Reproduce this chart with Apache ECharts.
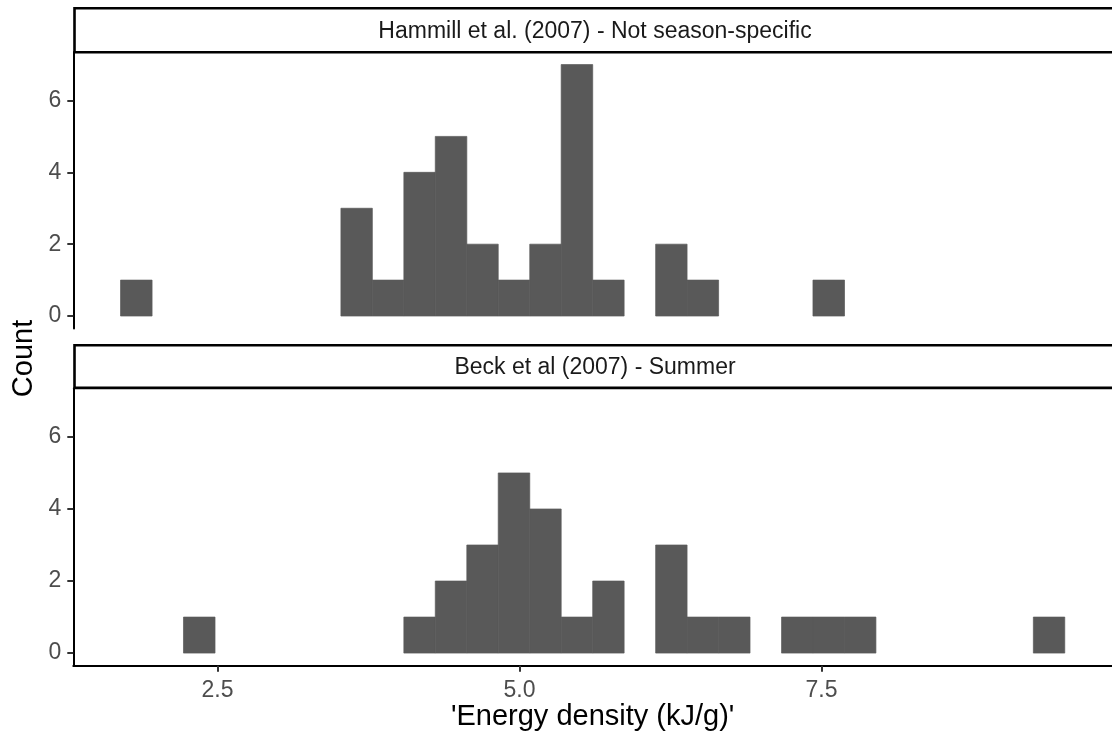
<!DOCTYPE html>
<html>
<head>
<meta charset="utf-8">
<script src="https://cdn.jsdelivr.net/npm/echarts@6/dist/echarts.min.js"></script>
<style>
html,body{margin:0;padding:0;background:#fff;}
#chart{width:1112px;height:741px;}
</style>
</head>
<body>
<div id="chart"></div>
<script>
// Histogram bin edges (energy density, kJ/g), 30 bins
const binEdges = [1.698, 1.959, 2.219, 2.480, 2.740, 3.001, 3.261, 3.522, 3.782, 4.043,
                  4.303, 4.564, 4.824, 5.085, 5.345, 5.606, 5.866, 6.127, 6.387, 6.648,
                  6.908, 7.169, 7.429, 7.690, 7.950, 8.211, 8.471, 8.732, 8.992, 9.253, 9.513];
// Counts per bin
const hammillCounts = [1, 0, 0, 0, 0, 0, 0, 3, 1, 4, 5, 2, 1, 2, 7, 1, 0, 2, 1, 0, 0, 0, 1, 0, 0, 0, 0, 0, 0, 0];
const beckCounts    = [0, 0, 1, 0, 0, 0, 0, 0, 0, 1, 2, 3, 5, 4, 1, 2, 0, 3, 1, 1, 0, 1, 1, 1, 0, 0, 0, 0, 0, 1];
const panelTitles = ["Hammill et al. (2007) - Not season-specific", "Beck et al (2007) - Summer"];
const xTicks = [2.5, 5.0, 7.5];
const yTicks = [0, 2, 4, 6];
const xTitle = "'Energy density (kJ/g)'";
const yTitle = "Count";

function toBins(counts) {
  const out = [];
  counts.forEach((c, k) => { if (c > 0) out.push([binEdges[k], binEdges[k + 1], c]); });
  return out;
}

const chart = echarts.init(document.getElementById('chart'), null, {renderer: 'canvas'});
const FONT = 'Liberation Sans, Arial, sans-serif';

function renderBar(params, api) {
  const p0 = api.coord([api.value(0), api.value(2)]);
  const p1 = api.coord([api.value(1), 0]);
  return {
    type: 'rect',
    shape: {x: p0[0], y: p0[1], width: p1[0] - p0[0], height: p1[1] - p0[1]},
    style: {fill: '#595959', stroke: '#595959', lineWidth: 0.7}
  };
}

const xMin = 1.307, xMax = 9.904;
const yMin = -0.35, yMax = 7.35;

function yAxisCfg(gi) {
  return {
    type: 'value', gridIndex: gi, min: yMin, max: yMax,
    splitLine: {show: false},
    axisLine: {show: true, lineStyle: {color: '#000', width: 2}},
    axisTick: {show: true, customValues: yTicks, length: 6, lineStyle: {color: '#333', width: 2}},
    axisLabel: {show: true, customValues: yTicks, color: '#4D4D4D', fontSize: 23, fontFamily: FONT, margin: 12}
  };
}

const option = {
  backgroundColor: '#fff',
  animation: false,
  grid: [
    {left: 73.3, right: -4.8, top: 52, height: 276.6},
    {left: 73.3, right: -4.8, top: 388.3, height: 277.4}
  ],
  xAxis: [
    {type: 'value', gridIndex: 0, min: xMin, max: xMax, show: false, splitLine: {show: false}},
    {type: 'value', gridIndex: 1, min: xMin, max: xMax,
     splitLine: {show: false},
     axisLine: {show: true, onZero: false, lineStyle: {color: '#000', width: 2}},
     axisTick: {show: true, customValues: xTicks, length: 6, lineStyle: {color: '#333', width: 2}},
     axisLabel: {show: true, customValues: xTicks, color: '#4D4D4D', fontSize: 23, fontFamily: FONT, margin: 13,
                 formatter: v => Number(v).toFixed(1)},
     name: xTitle, nameLocation: 'middle', nameGap: 37,
     nameTextStyle: {color: '#000', fontSize: 29, fontFamily: FONT}
    }
  ],
  yAxis: [yAxisCfg(0), yAxisCfg(1)],
  series: [
    {type: 'custom', xAxisIndex: 0, yAxisIndex: 0, renderItem: renderBar, data: toBins(hammillCounts),
     encode: {x: [0, 1], y: 2}, clip: true},
    {type: 'custom', xAxisIndex: 1, yAxisIndex: 1, renderItem: renderBar, data: toBins(beckCounts),
     encode: {x: [0, 1], y: 2}, clip: true}
  ],
  graphic: [
    {type: 'rect', z: 10, shape: {x: 74.5, y: 8.3, width: 1100, height: 44},
     style: {fill: '#fff', stroke: '#000', lineWidth: 2.6}},
    {type: 'text', z: 11, x: 595, y: 32, style: {text: panelTitles[0], fill: '#1A1A1A', font: '23px ' + FONT,
     align: 'center', verticalAlign: 'middle'}},
    {type: 'rect', z: 10, shape: {x: 74.5, y: 345.3, width: 1100, height: 42.6},
     style: {fill: '#fff', stroke: '#000', lineWidth: 2.6}},
    {type: 'text', z: 11, x: 595, y: 368, style: {text: panelTitles[1], fill: '#1A1A1A', font: '23px ' + FONT,
     align: 'center', verticalAlign: 'middle'}},
    {type: 'text', z: 11, x: 24, y: 358.5, rotation: Math.PI / 2,
     style: {text: yTitle, fill: '#000', font: '29px ' + FONT, align: 'center', verticalAlign: 'middle'}}
  ]
};
chart.setOption(option);
</script>
</body>
</html>
